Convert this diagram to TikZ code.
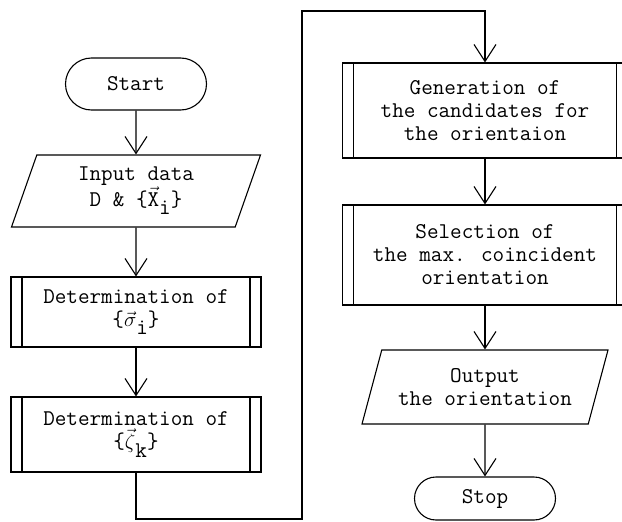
\documentclass[tikz,border=0pt]{standalone}
\usetikzlibrary{arrows.meta,shapes.geometric,shapes.misc}
\newcommand{\vecsub}[2]{$\vec{\hbox{#1}}$\raisebox{-0.85ex}{#2}}
\begin{document}
\begin{tikzpicture}[x=1pt,y=-1pt,line width=1.1pt,
  font=\ttfamily\fontsize{22.5}{23}\selectfont,
  >={Straight Barb[length=17pt,width=22pt]},
  term/.style={draw,rounded rectangle,minimum width=141pt,minimum height=52pt,inner sep=0pt},
  io/.style={draw,trapezium,trapezium left angle=62,trapezium right angle=118,
    trapezium stretches body,minimum height=72pt,minimum width=249pt,align=center,inner sep=0pt},
  sub/.style={draw,rectangle,minimum width=250pt,minimum height=72pt,align=center,inner sep=0pt,
    path picture={\draw ([xshift=11pt]path picture bounding box.north west)
      -- ([xshift=11pt]path picture bounding box.south west)
      ([xshift=-11pt]path picture bounding box.north east)
      -- ([xshift=-11pt]path picture bounding box.south east);}}]
\useasboundingbox (0,0) rectangle (622,522);
% left column
\node[term] (start) at (136,84) {Start};
\node[io] (input) at (136,191) {Input data\\D \& \{\vecsub{X}{i}\}};
\node[sub,minimum height=70pt] (sigma) at (136,312) {Determination of\\\{\vecsub{$\sigma$}{i}\}};
\node[sub,minimum height=75pt] (zeta) at (136,434.5) {Determination of\\\{\vecsub{$\zeta$}{k}\}};
% right column
\node[sub,minimum width=285pt,minimum height=95pt] (gen) at (485,110.5) {Generation of\\the candidates for\\the orientaion};
\node[sub,minimum width=285pt,minimum height=100pt] (sel) at (485,255) {Selection of\\the max. coincident\\orientation};
\node[io,minimum height=74pt,minimum width=246pt] (output) at (485,387) {Output\\the orientation};
\node[term,minimum height=43pt] (stop) at (485,498.5) {Stop};
\coordinate (loopbot) at (302,519);
\coordinate (looptop) at (485,11);
% connectors
\draw[->] (start) -- (input);
\draw[->] (input) -- (sigma);
\draw[->] (sigma) -- (zeta);
\draw[->] (zeta.south) |- (loopbot) |- (looptop) -- (gen.north);
\draw[->] (gen) -- (sel);
\draw[->] (sel) -- (output);
\draw[->] (output) -- (stop);
\end{tikzpicture}
\end{document}
